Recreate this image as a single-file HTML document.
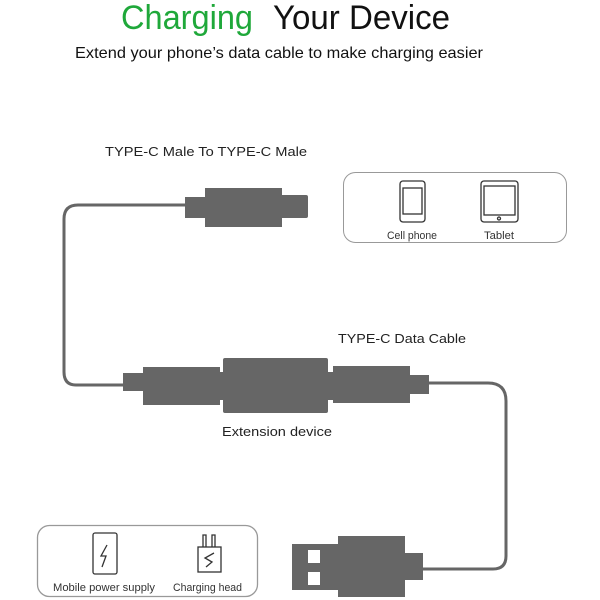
<!DOCTYPE html>
<html><head><meta charset="utf-8"><style>body{margin:0;background:#fff}svg{display:block}</style></head><body>
<svg width="600" height="600" viewBox="0 0 600 600" xmlns="http://www.w3.org/2000/svg" font-family="Liberation Sans, sans-serif">
<text x="121" y="29" font-size="34" fill="#1fa83a" textLength="132" lengthAdjust="spacingAndGlyphs">Charging</text>
<text x="273" y="29" font-size="34" fill="#111" textLength="177" lengthAdjust="spacingAndGlyphs">Your Device</text>
<text x="75" y="58" font-size="16" fill="#111" textLength="408" lengthAdjust="spacingAndGlyphs">Extend your phone’s data cable to make charging easier</text>
<text x="105" y="156" font-size="13" fill="#222" textLength="202" lengthAdjust="spacingAndGlyphs">TYPE-C Male To TYPE-C Male</text>
<text x="338" y="343" font-size="13" fill="#222" textLength="128" lengthAdjust="spacingAndGlyphs">TYPE-C Data Cable</text>
<text x="222" y="436" font-size="13" fill="#222" textLength="110" lengthAdjust="spacingAndGlyphs">Extension device</text>
<g fill="none" stroke="#666" stroke-width="3">
<path d="M186 205 H78 Q64 205 64 219 V372 Q64 385 76 385 H124"/>
<path d="M428 383 H488 Q506 383 506 401 V556 Q506 569 493 569 H422"/>
</g>
<g fill="#666">
<rect x="185" y="197" width="22" height="21"/>
<rect x="205" y="188" width="77" height="39"/>
<rect x="280" y="195" width="28" height="23" rx="2"/>
<rect x="123" y="373" width="22" height="18"/>
<rect x="143" y="367" width="77" height="38"/>
<rect x="218" y="372" width="8" height="28"/>
<rect x="223" y="358" width="105" height="55" rx="2"/>
<rect x="326" y="372" width="8" height="28"/>
<rect x="333" y="366" width="77" height="37"/>
<rect x="408" y="375" width="21" height="19"/>
<rect x="292" y="544" width="48" height="46"/>
<rect x="338" y="536" width="67" height="61"/>
<rect x="403" y="553" width="20" height="27"/>
</g>
<g fill="#fff"><rect x="308" y="550" width="12" height="13"/><rect x="308" y="572" width="12" height="13"/></g>
<rect x="343.5" y="172.5" width="223" height="70" rx="12" fill="none" stroke="#999"/>
<g fill="none" stroke="#333" stroke-width="1.3">
<rect x="400" y="181" width="25" height="41" rx="3"/><rect x="403" y="188" width="19" height="26"/>
<rect x="481" y="181" width="37" height="41" rx="3"/><rect x="484" y="186" width="31" height="29"/>
<circle cx="499" cy="218.5" r="1.5"/>
<rect x="37.5" y="525.5" width="220" height="71" rx="12" stroke="#999"/>
<rect x="93" y="533" width="24" height="41" rx="2"/>
<path d="M107 545 L101 556 H106 L102 567"/>
<rect x="198" y="547" width="23" height="25"/>
<path d="M203 547 V535 H206 V547 M212 547 V535 H215 V547"/>
<path d="M214 553 L205 558 L212 562 L206 567"/>
</g>
<g font-size="11" fill="#333">
<text x="387" y="239" textLength="50" lengthAdjust="spacingAndGlyphs">Cell phone</text>
<text x="484" y="239" textLength="30" lengthAdjust="spacingAndGlyphs">Tablet</text>
<text x="53" y="591" textLength="102" lengthAdjust="spacingAndGlyphs">Mobile power supply</text>
<text x="173" y="591" textLength="69" lengthAdjust="spacingAndGlyphs">Charging head</text>
</g>
</svg>
</body></html>
